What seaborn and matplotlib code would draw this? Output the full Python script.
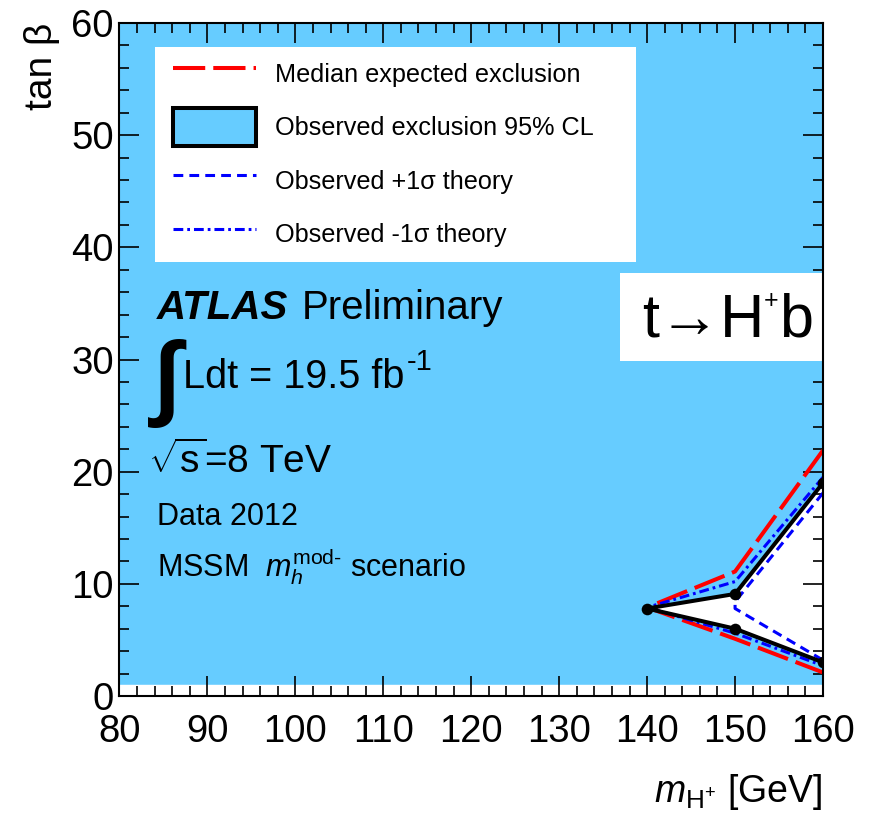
import matplotlib
matplotlib.use("Agg")
import matplotlib.pyplot as plt
from matplotlib.lines import Line2D
from matplotlib.patches import Patch, Rectangle
from matplotlib.ticker import MultipleLocator
import pandas as pd
import seaborn as sns

# Charged Higgs mass points [GeV]
mass = [140, 150, 160]

# Observed 95% CL exclusion: upper and lower tan(beta) edges of the allowed wedge
obs_upper = [7.8, 9.1, 19.0]
obs_lower = [7.8, 6.0, 3.0]

# Median expected exclusion
exp_upper = [7.9, 11.1, 21.9]
exp_lower = [7.9, 5.1, 2.1]

# Observed exclusion with -1 sigma theory uncertainty
minus_upper = [7.9, 10.2, 19.5]
minus_lower = [7.9, 5.6, 2.7]

# Observed exclusion with +1 sigma theory uncertainty (closes at 150 GeV)
plus_mass = [160, 150, 150, 160]
plus_tanb = [18.1, 8.4, 7.8, 3.2]

# Plot ranges and lowest scanned tan(beta)
x_range = [80, 160]
y_range = [0, 60]
tanb_floor = 1.0

legend_labels = [
    "Median expected exclusion",
    "Observed exclusion 95% CL",
    "Observed +1\u03c3 theory",
    "Observed -1\u03c3 theory",
]

FILL = "#66CCFF"


def wedge(upper, lower):
    """Trace a contour from the top-right edge round the tip and back out."""
    xs = mass[::-1] + mass[1:]
    ys = upper[::-1] + lower[1:]
    return pd.DataFrame({"m": xs, "tanb": ys})


sns.set_theme(style="ticks")
plt.rcParams["font.family"] = ["Liberation Sans", "DejaVu Sans"]
plt.rcParams["mathtext.fontset"] = "custom"
plt.rcParams["mathtext.rm"] = "Liberation Sans"
plt.rcParams["mathtext.it"] = "Liberation Sans:italic"
plt.rcParams["mathtext.bf"] = "Liberation Sans:bold"
for key in ["text.color", "axes.labelcolor", "xtick.color", "ytick.color", "axes.edgecolor"]:
    plt.rcParams[key] = "black"

fig = plt.figure(figsize=(8.88, 8.15), dpi=100)
ax = fig.add_axes([0.13457, 0.14601, 0.79223, 0.82577])
ax.set_facecolor("white")
ax.set_axisbelow(False)

# Excluded region: the full scanned plane minus the observed allowed wedge
region_x = [x_range[0], x_range[1], mass[2], mass[1], mass[0], mass[1], mass[2], x_range[1], x_range[0]]
region_y = [tanb_floor, tanb_floor, obs_lower[2], obs_lower[1], obs_lower[0],
            obs_upper[1], obs_upper[2], y_range[1], y_range[1]]
ax.fill(region_x, region_y, color=FILL, lw=0, zorder=1)

lw_thick = 2.9
lw_thin = 2.2
red_ls = (0, (8, 2))
dash_ls = (0, (3.2, 2.0))
dashdot_ls = (0, (3.2, 1.3, 0.9, 1.3))

sns.lineplot(data=wedge(exp_upper, exp_lower), x="m", y="tanb", sort=False, estimator=None,
             color="#FF0000", lw=lw_thick, linestyle=red_ls, ax=ax, zorder=3)
sns.lineplot(data=pd.DataFrame({"m": plus_mass, "tanb": plus_tanb}), x="m", y="tanb",
             sort=False, estimator=None, color="#0000FF", lw=lw_thin, linestyle=dash_ls,
             ax=ax, zorder=4)
sns.lineplot(data=wedge(minus_upper, minus_lower), x="m", y="tanb", sort=False, estimator=None,
             color="#0000FF", lw=lw_thin, linestyle=dashdot_ls, ax=ax, zorder=5)
obs = wedge(obs_upper, obs_lower)
sns.lineplot(data=obs, x="m", y="tanb", sort=False, estimator=None,
             color="black", lw=lw_thick, ax=ax, zorder=6)
sns.scatterplot(data=obs, x="m", y="tanb", color="black", s=70, linewidth=0, ax=ax, zorder=7)

ax.set_xlim(*x_range)
ax.set_ylim(*y_range)
ax.xaxis.set_major_locator(MultipleLocator(10))
ax.xaxis.set_minor_locator(MultipleLocator(2))
ax.yaxis.set_major_locator(MultipleLocator(10))
ax.yaxis.set_minor_locator(MultipleLocator(2))
ax.tick_params(which="both", direction="in", top=True, right=True, color="black", width=1.2)
ax.tick_params(which="major", length=14.4, labelsize=27.5)
ax.tick_params(which="minor", length=7.2)
ax.tick_params(axis="x", pad=13)
ax.tick_params(axis="y", pad=4)
for sp in ax.spines.values():
    sp.set_visible(True)
    sp.set_linewidth(1.5)
    sp.set_color("black")
    sp.set_zorder(10)

ax.set_ylabel("tan \u03b2", fontsize=28, loc="top")
ax.yaxis.set_label_coords(-0.085, 1.0)
ax.set_xlabel(r"$m_{\mathrm{H^{+}}}$ [GeV]", fontsize=27, loc="right")
ax.xaxis.set_label_coords(1.0, -0.113)

# Legend on its own white panel
ax.add_patch(Rectangle((0.0505, 0.6449), 0.6837, 0.3195, transform=ax.transAxes,
                       facecolor="white", edgecolor="none", zorder=8))
handles = [
    Line2D([], [], color="#FF0000", lw=lw_thick, linestyle=red_ls),
    Patch(facecolor=FILL, edgecolor="black", lw=lw_thick),
    Line2D([], [], color="#0000FF", lw=lw_thin, linestyle=dash_ls),
    Line2D([], [], color="#0000FF", lw=lw_thin, linestyle=dashdot_ls),
]
leg = ax.legend(handles, legend_labels, loc="upper left",
                bbox_to_anchor=(0.0760, 0.953), borderaxespad=0, borderpad=0,
                frameon=False, fontsize=18.2, handlelength=3.3, handleheight=1.93,
                handletextpad=0.72, labelspacing=0.62)
leg.set_zorder(9)

# Process label box
ax.add_patch(Rectangle((0.7114, 0.4978), 0.2886, 0.1307, transform=ax.transAxes,
                       facecolor="white", edgecolor="none", zorder=8))
ax.text(0.7427, 0.5349, "t\u2192H", transform=ax.transAxes, fontsize=44,
        va="baseline", ha="left", zorder=9)
ax.text(0.9160, 0.5765, "+", transform=ax.transAxes, fontsize=18,
        va="baseline", ha="left", zorder=9)
ax.text(0.9375, 0.5349, "b", transform=ax.transAxes, fontsize=44,
        va="baseline", ha="left", zorder=9)

# Experiment labels
ax.text(0.0533, 0.5602, "ATLAS", transform=ax.transAxes, fontsize=29,
        fontweight="bold", fontstyle="italic", va="baseline", zorder=9)
ax.text(0.2594, 0.5602, "Preliminary", transform=ax.transAxes, fontsize=29,
        va="baseline", zorder=9)
ax.text(0.0491, 0.4650, "\u222b", transform=ax.transAxes, fontsize=68,
        fontweight="bold", va="center", zorder=9)
ax.text(0.0902, 0.4577, "Ldt = 19.5 fb", transform=ax.transAxes, fontsize=28.5,
        va="baseline", zorder=9)
ax.text(0.4087, 0.4844, "-1", transform=ax.transAxes, fontsize=21,
        va="baseline", zorder=9)
ax.text(0.0405, 0.3314, r"$\sqrt{\mathrm{s}}$=8 TeV", transform=ax.transAxes, fontsize=28,
        va="baseline", zorder=9)
ax.text(0.0533, 0.2541, "Data 2012", transform=ax.transAxes, fontsize=22,
        va="baseline", zorder=9)
ax.text(0.0533, 0.1783, r"MSSM  $m_{h}^{\mathrm{mod}\text{-}}$ scenario",
        transform=ax.transAxes, fontsize=22, va="baseline", zorder=9)

fig.savefig("out.png", dpi=100)
